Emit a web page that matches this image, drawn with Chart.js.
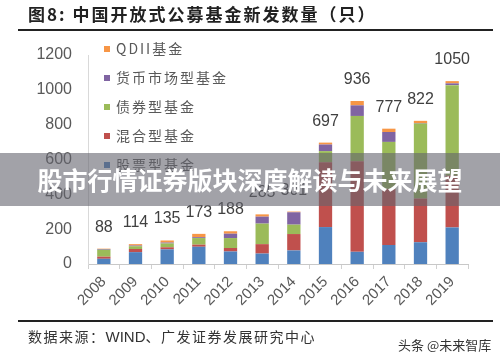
<!DOCTYPE html>
<html>
<head>
<meta charset="utf-8">
<script src="https://cdn.jsdelivr.net/npm/chart.js@4.4.1/dist/chart.umd.min.js"></script>
<style>
  html, body { margin: 0; padding: 0; background: #fff; }
  #wrap { position: relative; width: 500px; height: 360px; overflow: hidden; }
  #chart { position: absolute; left: 0; top: 0; }
  .title { position: absolute; left: 28px; top: 4px; font: bold 17px "Noto Sans CJK SC", sans-serif; line-height: 20px; letter-spacing: 2px; color: #222; }
  .rule { position: absolute; left: 18px; width: 475px; height: 2px; background: #222; }
  .source { position: absolute; left: 28px; top: 327px; font: 14px "Noto Sans CJK SC", sans-serif; line-height: 18px; letter-spacing: 1.5px; color: #333; }
  .source span { letter-spacing: 0; font-family: "Liberation Sans", sans-serif; font-size: 15px; }
  .wm { position: absolute; left: 398px; top: 337px; font: 13px "Noto Sans CJK SC", sans-serif; line-height: 16px; color: #333; }
  .banner { position: absolute; left: 0; top: 153px; width: 500px; height: 53px; background: rgba(100, 100, 110, 0.6); color: #fff; font: bold 25px "Noto Sans CJK SC", sans-serif; line-height: 53px; text-align: center; }
</style>
</head>
<body>
<div id="wrap">
  <canvas id="chart" width="500" height="360"></canvas>
  <div class="title">图8: 中国开放式公募基金新发数量（只）</div>
  <div class="rule" style="top:29px"></div>
  <div class="rule" style="top:320px"></div>
  <div class="source">数据来源：<span>WIND</span>、广发证券发展研究中心</div>
  <div class="wm">头条 @未来智库</div>
  <div class="banner">股市行情证券版块深度解读与未来展望</div>
</div>
<script>
// new open-end funds per year, by type (stack order bottom -> top)
const years = ["2008", "2009", "2010", "2011", "2012", "2013", "2014", "2015", "2016", "2017", "2018", "2019"];
const stockFunds = [30, 68, 84, 99, 72, 60, 78, 212, 70, 109, 125, 210];
const mixedFunds = [12, 18, 12, 12, 20, 54, 94, 372, 520, 322, 251, 297];
const bondFunds = [40, 16, 22, 38, 57, 118, 54, 64, 260, 270, 430, 520];
const moneyFunds = [4, 4, 5, 5, 25, 40, 71, 38, 61, 57, 3, 10];
const qdiiFunds = [2, 8, 12, 19, 14, 13, 4, 11, 25, 19, 13, 13];

const seriesNames = ["股票型基金", "混合型基金", "债券型基金", "货币市场型基金", "QDII基金"];
const seriesColors = ["#4f81bd", "#c0504d", "#9bbb59", "#8064a2", "#f79646"];
const seriesData = [stockFunds, mixedFunds, bondFunds, moneyFunds, qdiiFunds];

const yMax = 1200;
const yStep = 200;

const numFont = '"Liberation Sans", Arial, sans-serif';

// totals above each stack
const totalLabels = {
  id: "totalLabels",
  afterDatasetsDraw(chart) {
    const { ctx, scales } = chart;
    ctx.save();
    ctx.font = "16px " + numFont;
    ctx.fillStyle = "#404040";
    ctx.textAlign = "center";
    ctx.textBaseline = "alphabetic";
    years.forEach((yr, i) => {
      const total = chart.data.datasets.reduce((s, d) => s + d.data[i], 0);
      ctx.fillText(String(total), scales.x.getPixelForValue(i), scales.y.getPixelForValue(total) - 17);
    });
    ctx.restore();
  },
};

// vertical legend inside the plot, top item = top of stack
const sideLegend = {
  id: "sideLegend",
  afterDraw(chart) {
    const { ctx } = chart;
    const items = chart.data.datasets.slice().reverse();
    ctx.save();
    ctx.font = '14px "Noto Sans CJK SC", sans-serif';
    if ("letterSpacing" in ctx) ctx.letterSpacing = "2px";
    ctx.textBaseline = "middle";
    ctx.textAlign = "left";
    items.forEach((ds, k) => {
      const cy = 49 + k * 29;
      ctx.fillStyle = ds.backgroundColor;
      ctx.fillRect(104, cy - 3, 6, 6);
      ctx.fillStyle = "#595959";
      ctx.fillText(ds.label, 116, cy);
    });
    ctx.restore();
  },
};

new Chart(document.getElementById("chart"), {
  type: "bar",
  data: {
    labels: years,
    datasets: seriesData.map((d, i) => ({
      label: seriesNames[i],
      data: d,
      backgroundColor: seriesColors[i],
      borderWidth: 0,
      categoryPercentage: 1,
      barPercentage: 0.42,
    })),
  },
  options: {
    responsive: false,
    animation: false,
    devicePixelRatio: 1,
    layout: { padding: { left: 0, right: 32, top: 55, bottom: 0 } },
    plugins: {
      legend: { display: false },
      tooltip: { enabled: false },
    },
    scales: {
      x: {
        stacked: true,
        grid: { display: true, drawOnChartArea: false, drawTicks: true, tickLength: 5, color: "#d0d0d0", offset: true },
        border: { display: true, color: "#c8c8c8", width: 1 },
        ticks: {
          autoSkip: false,
          minRotation: 45,
          maxRotation: 45,
          padding: 4,
          color: "#595959",
          font: { family: numFont, size: 15 },
        },
        afterFit: (s) => { s.height = 96; },
      },
      y: {
        stacked: true,
        min: 0,
        max: yMax,
        grid: { display: false, drawTicks: false },
        border: { display: true, color: "#d9d9d9", width: 1 },
        ticks: {
          stepSize: yStep,
          padding: 16,
          color: "#595959",
          font: { family: numFont, size: 16 },
          callback: (v) => String(v),
        },
        afterFit: (s) => { s.width = 88; },
      },
    },
  },
  plugins: [totalLabels, sideLegend],
});
</script>
</body>
</html>
